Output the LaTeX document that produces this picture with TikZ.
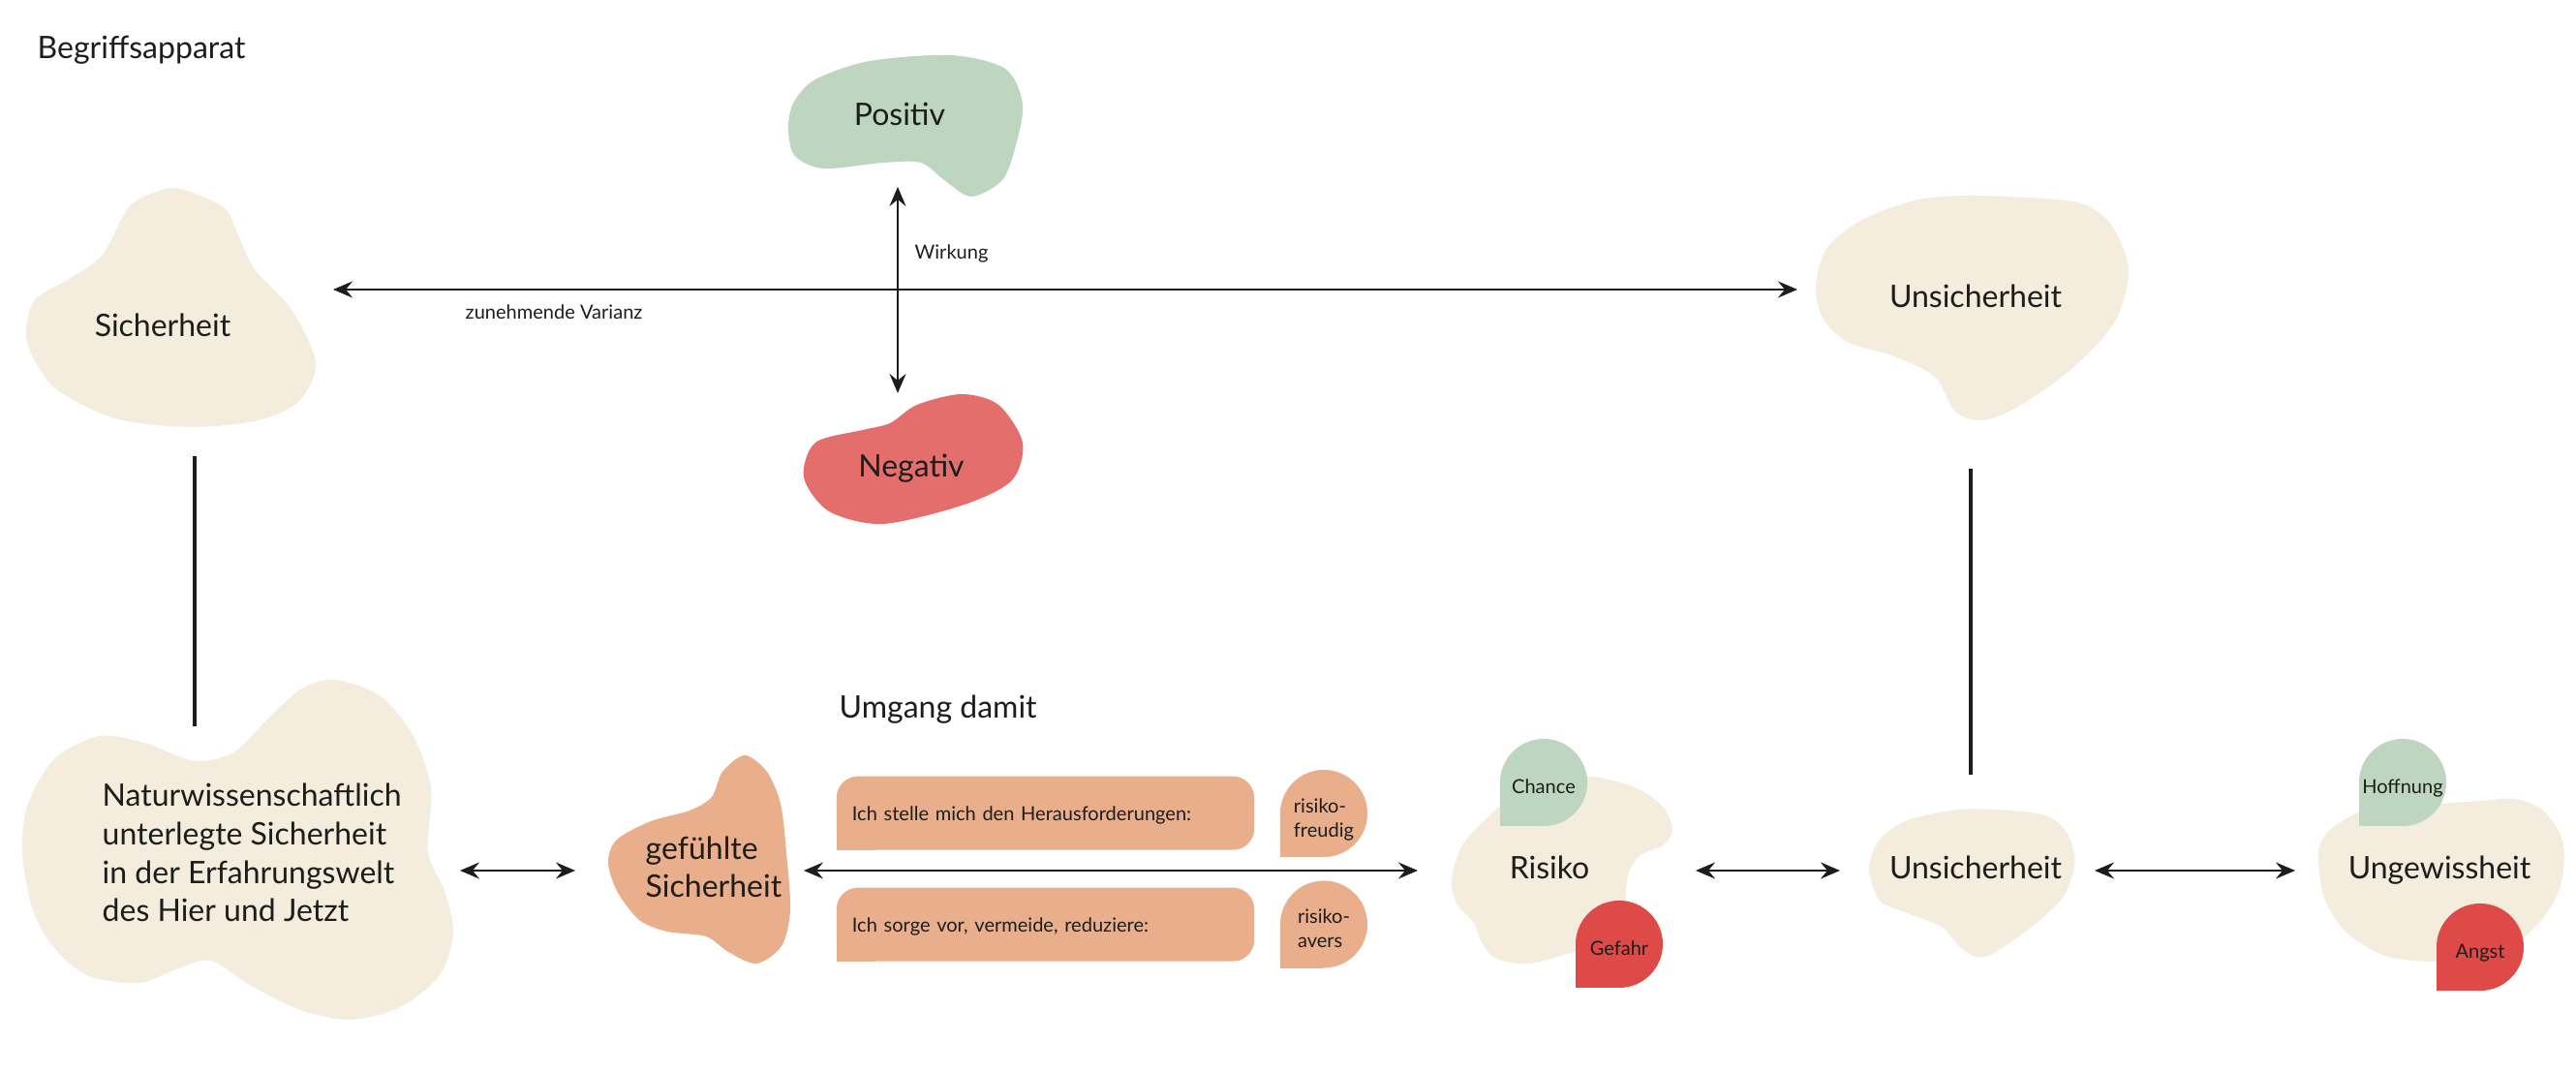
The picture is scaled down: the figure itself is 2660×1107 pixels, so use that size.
\documentclass[tikz,border=0pt]{standalone}
\usepackage{fontspec}
\setmainfont{Lato}
\usetikzlibrary{arrows.meta}
\definecolor{beige}{HTML}{F4ECDC}
\definecolor{sage}{HTML}{BED6BF}
\definecolor{negred}{HTML}{E46E6C}
\definecolor{alarm}{HTML}{DD4A48}
\definecolor{salmon}{HTML}{E9AF8C}
\definecolor{ink}{HTML}{1D1D1B}
\begin{document}
\begin{tikzpicture}[x=0.01cm, y=-0.01cm,
  big/.style={font=\fontsize{9.1}{11.3}\selectfont, text=ink, inner sep=0pt},
  small/.style={font=\fontsize{5.7}{7}\selectfont, text=ink, inner sep=0pt},
  tip/.tip={Stealth[length=0.2cm,width=0.17cm,inset=0.07cm]},
  link/.style={draw=ink, line width=0.57pt, tip-tip},
  bar/.style={draw=ink, line width=1pt},
  drop/.style={minimum width=0.9cm, minimum height=0.9cm, inner sep=0pt, small, align=left,
    text height=0.22cm, text depth=0cm,
    path picture={\fill[#1] (path picture bounding box.center) circle[radius=0.45cm];
                  \fill[#1] (path picture bounding box.south west) rectangle (path picture bounding box.center);}},
  twoline/.style={text height=0.48cm, text depth=0cm},
  banner/.style={minimum width=4.31cm, minimum height=0.76cm, text width=3.99cm, inner xsep=0.16cm, inner ysep=0pt, small, align=left,
    text height=0.16cm, text depth=0cm,
    path picture={\fill[salmon, rounded corners=0.22cm] (path picture bounding box.south west) rectangle (path picture bounding box.north east);
                  \fill[salmon] (path picture bounding box.south west) rectangle ++(0.4cm,0.3cm);}}
]
\useasboundingbox (0,0) rectangle (2660,1107);

% ---------- blobs ----------
\fill[beige] plot[smooth cycle] coordinates {(186,195) (231,214) (246,243) (263,278) (302,321) (326,375) (309,414) (267,434) (196,441) (119,432) (56,400) (28,353) (35,311) (70,289) (105,264) (133,214) (161,198)};
\fill[sage] plot[smooth cycle] coordinates {(814,130) (820,105) (842,82) (898,63) (982,57) (1038,71) (1056,107) (1049,150) (1035,186) (1003,203) (975,186) (951,168) (912,168) (850,174) (820,160)};
\fill[negred] plot[smooth cycle] coordinates {(993,407) (1031,418) (1056,457) (1045,496) (996,521) (912,541) (856,528) (830,493) (842,457) (891,444) (919,437) (947,418)};
\fill[beige] plot[smooth cycle] coordinates {(1875,296) (1886,257) (1921,228) (1977,207) (2033,202) (2110,205) (2152,211) (2180,232) (2198,278) (2184,332) (2138,382) (2082,421) (2047,434) (2019,425) (1998,389) (1956,368) (1907,353) (1882,328)};
\fill[beige] plot[smooth cycle] coordinates {(344,702) (390,717) (425,757) (445,813) (442,880) (459,920) (468,963) (454,1007) (413,1040) (362,1053) (310,1043) (258,1017) (218,992) (184,1000) (144,1015) (92,1008) (57,980) (34,940) (23,880) (29,830) (57,783) (103,760) (149,767) (201,786) (241,777) (276,743) (310,712)};
\fill[salmon] plot[smooth cycle] coordinates {(769,780) (792,797) (806,830) (812,880) (816,940) (807,977) (781,995) (752,983) (729,967) (689,962) (660,950) (637,920) (628,890) (637,867) (672,848) (712,837) (735,823) (746,797)};
\fill[beige] plot[smooth cycle] coordinates {(1596,807) (1642,802) (1688,813) (1717,833) (1727,857) (1717,873) (1694,883) (1682,900) (1679,920) (1677,947) (1660,970) (1625,983) (1579,995) (1545,990) (1530,973) (1522,953) (1504,933) (1499,907) (1510,873) (1533,847) (1553,830)};
\fill[beige] plot[smooth cycle] coordinates {(1930,897) (1941,867) (1970,847) (2023,836) (2075,837) (2115,843) (2136,863) (2142,893) (2130,927) (2098,957) (2057,985) (2040,988) (2023,977) (2005,957) (1970,943) (1941,930)};
\fill[beige] plot[smooth cycle] coordinates {(2394,880) (2406,857) (2440,837) (2480,833) (2521,830) (2562,827) (2597,825) (2626,837) (2646,867) (2646,907) (2632,940) (2603,970) (2560,990) (2510,993) (2463,987) (2423,963) (2400,927)};

% ---------- texts ----------
\node[big, anchor=base west] (title) at (38,61) {Begriffsapparat};
\node[big, anchor=base] (sich) at (168,348) {Sicherheit};
\node[big, anchor=base] (pos) at (929,130) {Positiv};
\node[big, anchor=base] (neg) at (941,493) {Negativ};
\node[big, anchor=base] (unsichA) at (2040,318) {Unsicherheit};
\node[small, anchor=base west] (varianz) at (480,330) {zunehmende Varianz};
\node[small, anchor=base west] (wirkung) at (944,268) {Wirkung};
\node[big, anchor=base west] (umgang) at (866,742) {Umgang damit};
\node[big, anchor=base west, align=left] (natur) at (105,952) {Naturwissenschaftlich\\unterlegte Sicherheit\\in der Erfahrungswelt\\des Hier und Jetzt};
\node[big, anchor=base west, align=left] (gef) at (666,927) {gefühlte\\Sicherheit};
\node[banner] (b1) at (1079.5,839.7) {Ich stelle mich den Herausforderungen:};
\node[banner] (b2) at (1079.5,954.7) {Ich sorge vor, vermeide, reduziere:};
\node[drop=salmon, twoline] (freudig) at (1367,840) {risiko-\\freudig};
\node[drop=salmon, twoline] (avers) at (1367,954.5) {risiko-\\avers};
\node[big, anchor=base] (risiko) at (1600,908) {Risiko};
\node[drop=sage] (chance) at (1594,808) {Chance};
\node[drop=alarm] (gefahr) at (1672,975) {Gefahr};
\node[big, anchor=base] (unsichB) at (2040,908) {Unsicherheit};
\node[big, anchor=base] (ungew) at (2519,908) {Ungewissheit};
\node[drop=sage] (hoff) at (2481,808) {Hoffnung};
\node[drop=alarm] (angst) at (2561,978) {Angst};

% ---------- connectors ----------
\coordinate (hL) at (344,299);
\coordinate (hR) at (1856,299);
\coordinate (vT) at (927,193);
\coordinate (vB) at (927,406);
\draw[link] (hL) -- (hR);
\draw[link] (vT) -- (vB);

\coordinate (lT) at (201,471);
\coordinate (lB) at (201,750);
\coordinate (rT) at (2035,484);
\coordinate (rB) at (2035,800);
\draw[bar] (lT) -- (lB);
\draw[bar] (rT) -- (rB);

\coordinate (a1) at (475,899);
\coordinate (a2) at (594,899);
\coordinate (a3) at (830,899);
\coordinate (a4) at (1464,899);
\coordinate (a5) at (1751,899);
\coordinate (a6) at (1900,899);
\coordinate (a7) at (2163,899);
\coordinate (a8) at (2370,899);
\draw[link] (a1) -- (a2);
\draw[link] (a3) -- (a4);
\draw[link] (a5) -- (a6);
\draw[link] (a7) -- (a8);
\end{tikzpicture}
\end{document}
